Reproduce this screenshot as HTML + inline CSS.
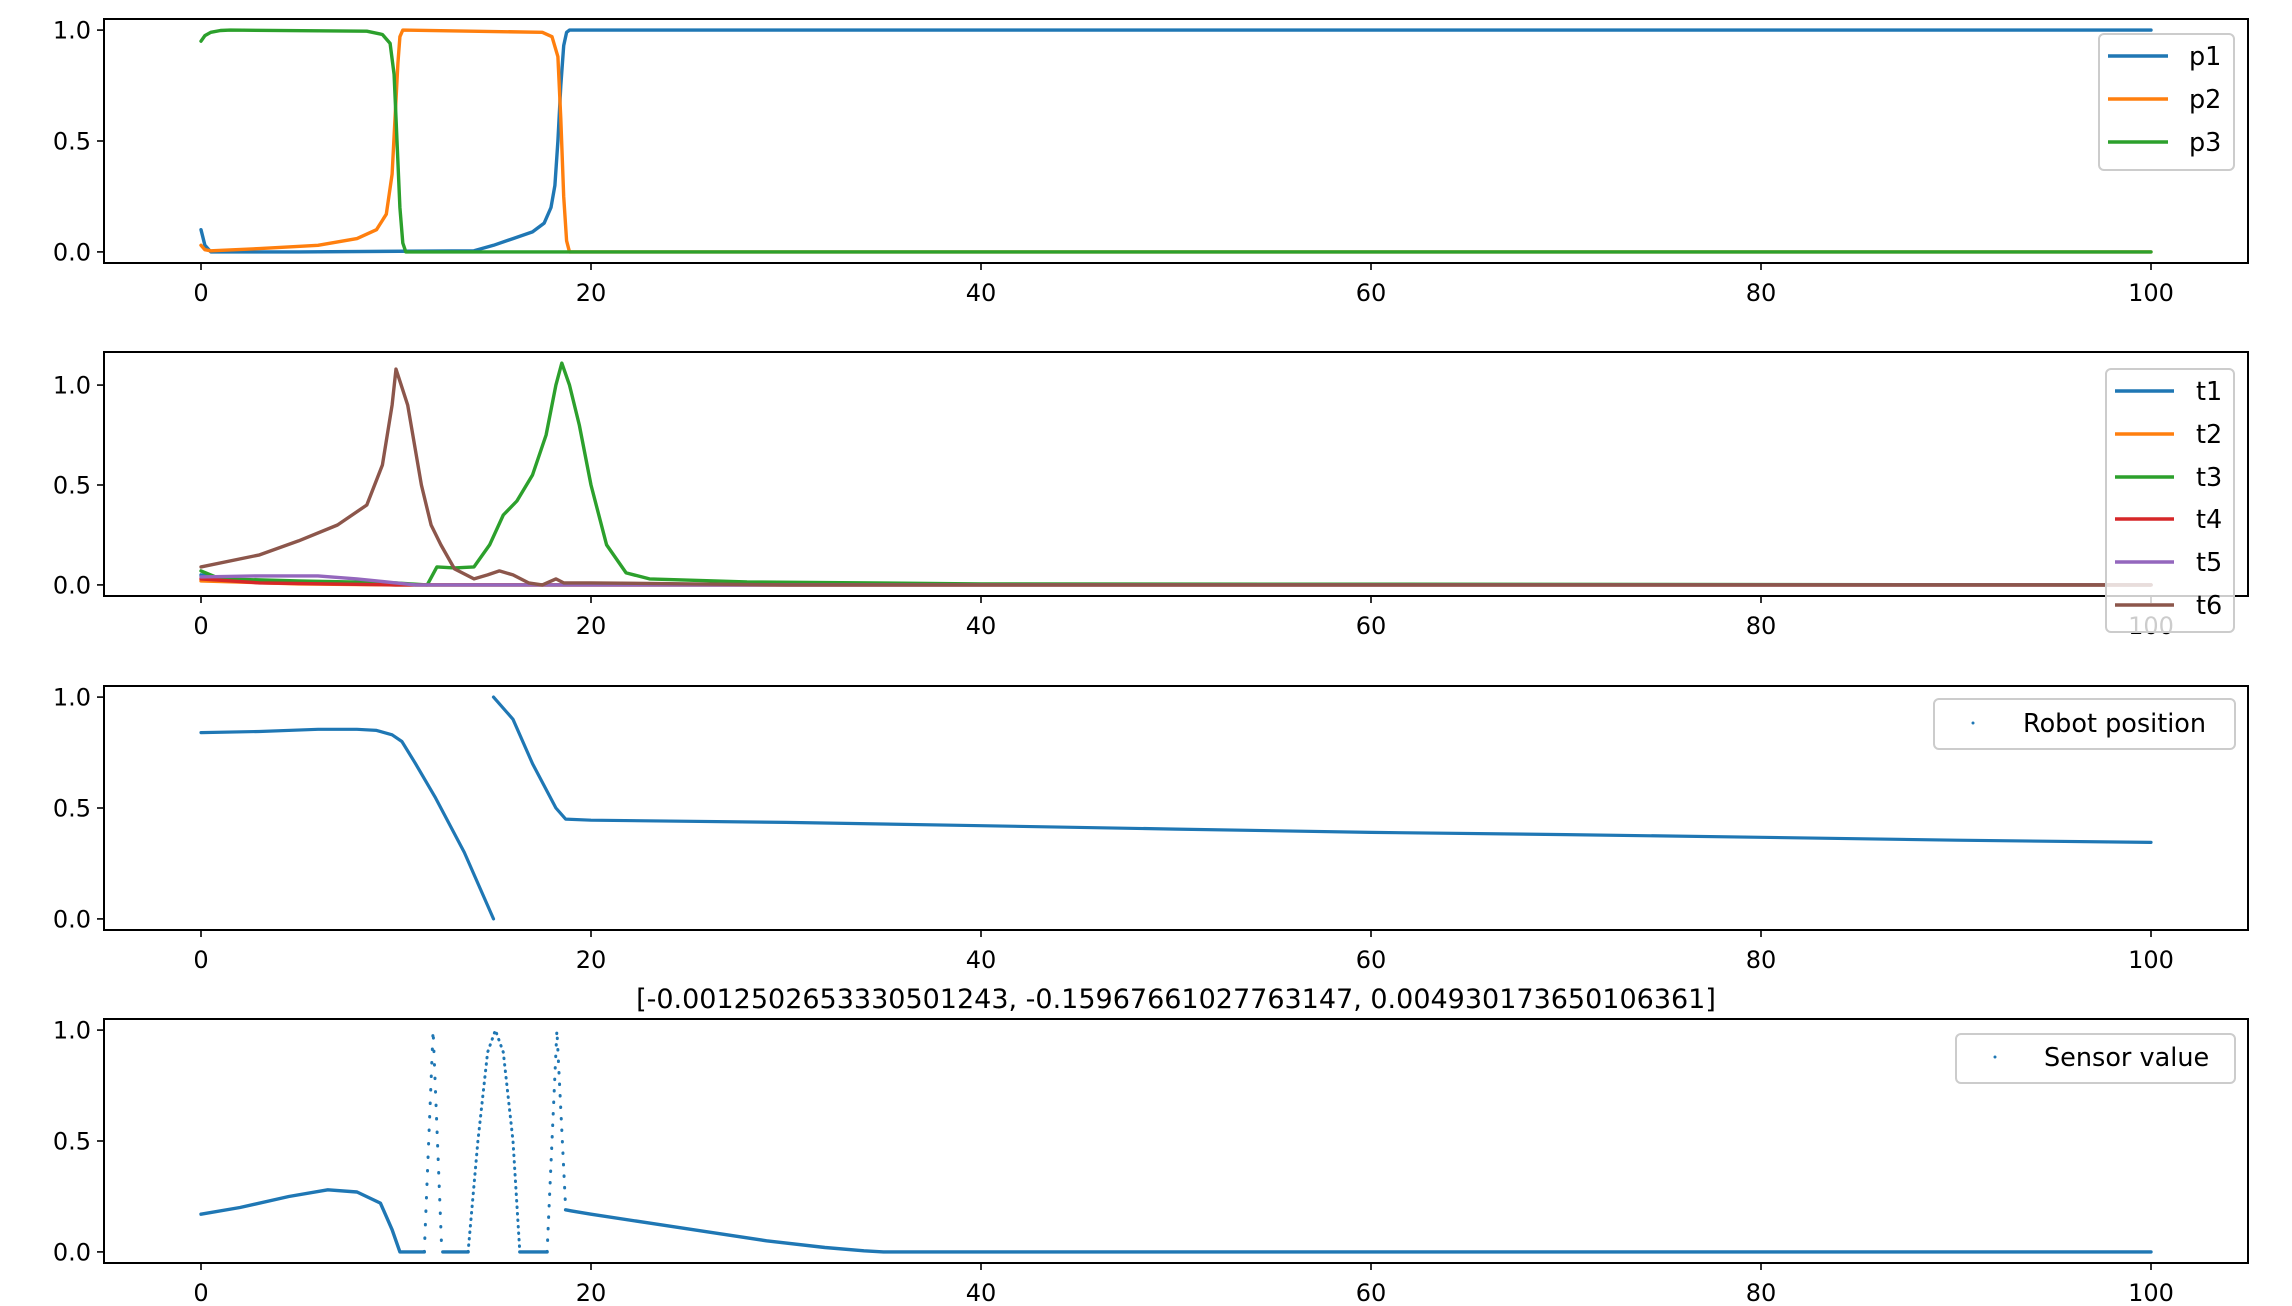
<!DOCTYPE html>
<html><head><meta charset="utf-8"><style>
html,body{margin:0;padding:0;background:#fff}
svg{display:block;font-family:"DejaVu Sans","Liberation Sans",sans-serif}
</style></head><body>
<svg id="fig" width="2292" height="1306" viewBox="0 0 2292 1306" xmlns="http://www.w3.org/2000/svg"></svg>
<script>
// ---- data ----
const xTicks = [0, 20, 40, 60, 80, 100];
const yTicks = [0.0, 0.5, 1.0];
const yTickLabels = ["0.0", "0.5", "1.0"];
const xTickLabels = ["0", "20", "40", "60", "80", "100"];

const p1X = [0, 0.2, 0.5, 5, 14, 15, 16, 17, 17.6, 17.95, 18.15, 18.3, 18.45, 18.6, 18.75, 18.9, 100];
const p1Y = [0.1, 0.03, 0.0, 0.0, 0.005, 0.03, 0.06, 0.09, 0.13, 0.2, 0.3, 0.5, 0.75, 0.93, 0.99, 1.0, 1.0];
const p2X = [0, 0.2, 0.5, 3, 6, 8, 9, 9.5, 9.8, 9.95, 10.1, 10.2, 10.35, 17.5, 18.0, 18.3, 18.45, 18.6, 18.75, 18.9, 100];
const p2Y = [0.03, 0.01, 0.005, 0.015, 0.03, 0.06, 0.1, 0.17, 0.35, 0.6, 0.85, 0.97, 1.0, 0.99, 0.97, 0.88, 0.6, 0.25, 0.05, 0.0, 0.0];
const p3X = [0, 0.2, 0.5, 1.0, 1.5, 8.5, 9.3, 9.7, 9.9, 10.05, 10.2, 10.35, 10.5, 100];
const p3Y = [0.95, 0.975, 0.99, 0.998, 1.0, 0.995, 0.98, 0.94, 0.8, 0.5, 0.2, 0.04, 0.0, 0.0];

const t1X = [0, 2, 10, 100];   const t1Y = [0.05, 0.02, 0.0, 0.0];
const t2X = [0, 5, 10, 100];   const t2Y = [0.02, 0.005, 0.0, 0.0];
const t3X = [0, 1, 5, 10, 11.6, 12.1, 13, 14, 14.8, 15.5, 16.2, 17, 17.7, 18.2, 18.5, 18.9, 19.4, 20, 20.8, 21.8, 23, 28, 40, 100];
const t3Y = [0.07, 0.03, 0.02, 0.01, 0.0, 0.09, 0.085, 0.09, 0.2, 0.35, 0.42, 0.55, 0.75, 1.0, 1.11, 1.0, 0.8, 0.5, 0.2, 0.06, 0.03, 0.015, 0.005, 0.0];
const t4X = [0, 3, 10, 100];   const t4Y = [0.03, 0.01, 0.0, 0.0];
const t5X = [0, 3, 6, 8, 10, 11, 100]; const t5Y = [0.04, 0.045, 0.045, 0.03, 0.01, 0.0, 0.0];
const t6X = [0, 3, 5, 7, 8.5, 9.3, 9.8, 10.0, 10.6, 11.3, 11.8, 12.3, 13, 14, 14.7, 15.3, 16, 16.8, 17.5, 18.2, 18.6, 20, 30, 100];
const t6Y = [0.09, 0.15, 0.22, 0.3, 0.4, 0.6, 0.9, 1.08, 0.9, 0.5, 0.3, 0.2, 0.08, 0.03, 0.05, 0.07, 0.05, 0.01, 0.0, 0.03, 0.01, 0.01, 0.0, 0.0];

const robotAX = [0, 3, 6, 8, 9, 9.8, 10.3, 11, 12, 13.5, 15];
const robotAY = [0.84, 0.845, 0.855, 0.855, 0.85, 0.83, 0.8, 0.7, 0.55, 0.3, 0.0];
const robotBX = [15, 16, 17, 18.2, 18.7, 20, 30, 40, 50, 60, 70, 80, 90, 100];
const robotBY = [1.0, 0.9, 0.7, 0.5, 0.45, 0.445, 0.435, 0.42, 0.405, 0.39, 0.38, 0.368, 0.355, 0.345];

const sensAX = [0, 2, 4.5, 6.5, 8, 9.2, 9.8, 10.2, 11.45];
const sensAY = [0.17, 0.2, 0.25, 0.28, 0.27, 0.22, 0.1, 0.0, 0.0];
const sensP1X = [11.45, 11.9, 12.35]; const sensP1Y = [0.0, 1.0, 0.0];
const sensBX = [12.4, 13.7]; const sensBY = [0.0, 0.0];
const sensP2X = [13.7, 14.2, 14.7, 15.1, 15.5, 16.0, 16.35]; const sensP2Y = [0.0, 0.5, 0.9, 1.0, 0.9, 0.5, 0.0];
const sensCX = [16.35, 17.75]; const sensCY = [0.0, 0.0];
const sensP3X = [17.75, 18.25, 18.7]; const sensP3Y = [0.0, 1.0, 0.2];
const sensDX = [18.7, 19, 20, 23, 26, 29, 32, 34, 35, 100];
const sensDY = [0.19, 0.185, 0.17, 0.13, 0.09, 0.05, 0.02, 0.005, 0.0, 0.0];

const titleText = "[-0.0012502653330501243, -0.15967661027763147, 0.004930173650106361]";

// ---- drawing ----
const NS = "http://www.w3.org/2000/svg";
const svg = document.getElementById("fig");
const L = 104, R = 2248, H = 244;
const tops = [19, 352, 686, 1019];
const ylims = [[-0.05, 1.05], [-0.0555, 1.1655], [-0.05, 1.05], [-0.05, 1.05]];
function xs(v) { return 201 + v * 19.5; }
function ysF(i) { return v => tops[i] + (ylims[i][1] - v) / (ylims[i][1] - ylims[i][0]) * H; }
function mk(tag, attrs, parent) {
  const e = document.createElementNS(NS, tag);
  for (const k in attrs) e.setAttribute(k, attrs[k]);
  (parent || svg).appendChild(e);
  return e;
}
function line(xa, ya, y, color, name, w, dash) {
  const pts = xa.map((v, j) => xs(v).toFixed(1) + "," + y(ya[j]).toFixed(1)).join(" ");
  const e = mk("polyline", {points: pts, fill: "none", stroke: color, "stroke-width": w || 3.4, "stroke-linejoin": "round", "stroke-linecap": "round"});
  if (dash) e.setAttribute("stroke-dasharray", dash);
  
  
}
function axes(i) {
  const y = ysF(i), T = tops[i];
  const g = mk("g", {});
  
  
  xTicks.forEach((v, j) => {
    mk("line", {x1: xs(v), x2: xs(v), y1: T + H, y2: T + H + 7, stroke: "#000", "stroke-width": 1.6}, g);
    const t = mk("text", {x: xs(v), y: T + H + 38, "text-anchor": "middle", "font-size": 24}, g);
    t.textContent = xTickLabels[j];
    
    
  });
  yTicks.forEach((v, j) => {
    mk("line", {x1: L - 7, x2: L, y1: y(v), y2: y(v), stroke: "#000", "stroke-width": 1.6}, g);
    const t = mk("text", {x: L - 13, y: y(v) + 8.5, "text-anchor": "end", "font-size": 24}, g);
    t.textContent = yTickLabels[j];
    
    
  });
  return y;
}
function frame(i) {
  const e = mk("rect", {x: L, y: tops[i], width: R - L, height: H, fill: "none", stroke: "#000", "stroke-width": 2});
  
  
}
function legend(x, y, w, h, entries, kind, name) {
  const g = mk("g", {});
  
  
  mk("rect", {x: x, y: y, width: w, height: h, rx: 5, fill: "rgba(255,255,255,0.8)", stroke: "#cccccc", "stroke-width": 2}, g);
  entries.forEach(en => {
    if (kind === "line") mk("line", {x1: en.lx1, x2: en.lx2, y1: en.y, y2: en.y, stroke: en.c, "stroke-width": 3.4}, g);
    else mk("circle", {cx: en.lx1, cy: en.y, r: 1.5, fill: "#1f77b4"}, g);
    const t = mk("text", {x: en.tx, y: en.y + 9, "font-size": 25.5}, g);
    t.textContent = en.label;
    
    
  });
}

const C = {b: "#1f77b4", o: "#ff7f0e", g: "#2ca02c", r: "#d62728", p: "#9467bd", br: "#8c564b"};

// panel 1
let y = axes(0);
line(p1X, p1Y, y, C.b, "line-p1");
line(p2X, p2Y, y, C.o, "line-p2");
line(p3X, p3Y, y, C.g, "line-p3");
frame(0);
// panel 2
y = axes(1);
line(t1X, t1Y, y, C.b, "line-t1");
line(t2X, t2Y, y, C.o, "line-t2");
line(t3X, t3Y, y, C.g, "line-t3");
line(t4X, t4Y, y, C.r, "line-t4");
line(t5X, t5Y, y, C.p, "line-t5");
line(t6X, t6Y, y, C.br, "line-t6");
frame(1);
// panel 3
y = axes(2);
line(robotAX, robotAY, y, C.b, "robot-position-segment-1", 3.2);
line(robotBX, robotBY, y, C.b, "robot-position-segment-2", 3.2);
frame(2);
// panel 4
y = axes(3);
line(sensAX, sensAY, y, C.b, "sensor-segment-a", 3.4);
line(sensP1X, sensP1Y, y, C.b, "sensor-peak-1", 3, "0.5 13");
line(sensBX, sensBY, y, C.b, "sensor-segment-b", 3.4);
line(sensP2X, sensP2Y, y, C.b, "sensor-peak-2", 3, "0.5 6");
line(sensCX, sensCY, y, C.b, "sensor-segment-c", 3.4);
line(sensP3X, sensP3Y, y, C.b, "sensor-peak-3", 3, "0.5 11");
line(sensDX, sensDY, y, C.b, "sensor-segment-d", 3.4);
frame(3);

const tt = mk("text", {x: (L + R) / 2, y: 1008, "text-anchor": "middle", "font-size": 27});
tt.textContent = titleText;



legend(2099, 34, 135, 136, [
  {label: "p1", c: C.b, y: 56, lx1: 2108, lx2: 2168, tx: 2189},
  {label: "p2", c: C.o, y: 99, lx1: 2108, lx2: 2168, tx: 2189},
  {label: "p3", c: C.g, y: 142, lx1: 2108, lx2: 2168, tx: 2189}], "line", "legend-p");
legend(2106, 369, 128, 263, [
  {label: "t1", c: C.b, y: 391, lx1: 2115, lx2: 2174, tx: 2196},
  {label: "t2", c: C.o, y: 434, lx1: 2115, lx2: 2174, tx: 2196},
  {label: "t3", c: C.g, y: 477, lx1: 2115, lx2: 2174, tx: 2196},
  {label: "t4", c: C.r, y: 519, lx1: 2115, lx2: 2174, tx: 2196},
  {label: "t5", c: C.p, y: 562, lx1: 2115, lx2: 2174, tx: 2196},
  {label: "t6", c: C.br, y: 605, lx1: 2115, lx2: 2174, tx: 2196}], "line", "legend-t");
legend(1934, 699, 301, 50, [{label: "Robot position", y: 723, lx1: 1973, tx: 2023}], "dot", "legend-robot");
legend(1956, 1034, 279, 49, [{label: "Sensor value", y: 1057, lx1: 1995, tx: 2044}], "dot", "legend-sensor");
</script>
</body></html>
